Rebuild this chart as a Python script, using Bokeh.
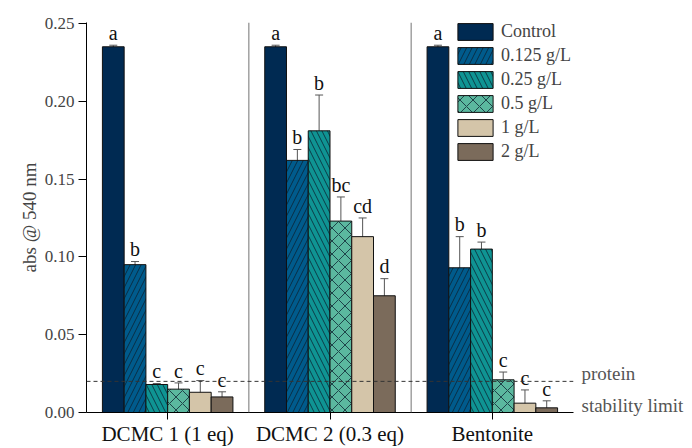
from bokeh.plotting import figure
from bokeh.models import (ColumnDataSource, FactorRange, Range1d, Span, Legend, LinearAxis,
                          LegendItem, Whisker, TeeHead, SingleIntervalTicker, FixedTicker,
                          NumeralTickFormatter)
from bokeh.transform import dodge
from bokeh.core.properties import value
from bokeh.embed import file_html
from bokeh.resources import INLINE

# ---- data ----
groups = ["DCMC 1 (1 eq)", "DCMC 2 (0.3 eq)", "Bentonite"]
series = ["Control", "0.125 g/L", "0.25 g/L", "0.5 g/L", "1 g/L", "2 g/L"]

control = [0.235, 0.235, 0.235]
conc_0125 = [0.095, 0.162, 0.093]
conc_025 = [0.018, 0.181, 0.105]
conc_05 = [0.015, 0.123, 0.021]
conc_1 = [0.013, 0.113, 0.006]
conc_2 = [0.010, 0.075, 0.003]

err_control = [0.001, 0.001, 0.001]
err_0125 = [0.002, 0.007, 0.020]
err_025 = [0.0006, 0.023, 0.0045]
err_05 = [0.004, 0.0155, 0.005]
err_1 = [0.0075, 0.012, 0.0085]
err_2 = [0.0033, 0.011, 0.0045]

let_control = ["a", "a", "a"]
let_0125 = ["b", "b", "b"]
let_025 = ["c", "b", "b"]
let_05 = ["c", "bc", "c"]
let_1 = ["c", "cd", "c"]
let_2 = ["c", "d", "c"]

stability_limit = 0.02
limit_text = ["protein", "stability limit"]

values_all = [control, conc_0125, conc_025, conc_05, conc_1, conc_2]
errors_all = [err_control, err_0125, err_025, err_05, err_1, err_2]
letters_all = [let_control, let_0125, let_025, let_05, let_1, let_2]

# ---- style ----
colors = ["#002a52", "#005b8c", "#0f9493", "#5bb89f", "#d4c5a9", "#7b6b5b"]
hatches = [None, "/", "\\", "x", None, None]
hatch_scales = [12, 11, 11, 13, 4, 4]
FONT = "Liberation Serif"
bar_w = 0.134

p = figure(x_range=FactorRange(*groups), y_range=Range1d(0, 0.2506),
           width=692, height=448, output_backend="svg", toolbar_location=None,
           min_border_left=86, min_border_right=119, min_border_top=22, min_border_bottom=35)
p.outline_line_color = None
p.xgrid.visible = False
p.ygrid.visible = False
p.background_fill_color = "white"

items = []
for i, name in enumerate(series):
    off = (i - 2.5) * bar_w
    vals = values_all[i]
    errs = errors_all[i]
    src = ColumnDataSource(dict(
        group=groups, top=vals,
        upper=[v + e for v, e in zip(vals, errs)],
        lower=[v - e for v, e in zip(vals, errs)],
        ly=[v + e + 0.0008 for v, e in zip(vals, errs)],
        letter=letters_all[i],
    ))
    kw = {}
    if hatches[i]:
        kw = dict(hatch_pattern=hatches[i], hatch_color="#0b1e2e", hatch_alpha=0.85,
                  hatch_scale=hatch_scales[i], hatch_weight=0.9)
    r = p.vbar(x=dodge("group", off, range=p.x_range), top="top", width=bar_w, bottom=0,
               source=src, fill_color=colors[i], line_color="#111111", line_width=1, **kw)
    items.append(LegendItem(label=name, renderers=[r]))
    w = Whisker(source=src, base=dodge("group", off, range=p.x_range), upper="upper", lower="lower",
                line_color="#555555", line_width=1,
                upper_head=TeeHead(size=8, line_color="#555555", line_width=1),
                lower_head=TeeHead(size=8, line_color="#555555", line_width=1))
    p.add_layout(w)
    p.text(x=dodge("group", off, range=p.x_range), y="ly", text="letter", source=src,
           text_align="center", text_baseline="bottom", text_font=value(FONT),
           text_font_size="20px", text_color="#111111")

# separators
for loc in [1, 2]:
    p.add_layout(Span(location=loc, dimension="height", line_color="#8a8a8a", line_width=1.2))

# stability limit line
p.add_layout(Span(location=stability_limit, dimension="width", line_color="#333333",
                  line_dash="4 3", line_width=1))

# text for the limit, as labels of an axis on the right side (outside the frame)
t_protein = stability_limit + 0.005
t_stab = 0.0045
raxis = LinearAxis(ticker=FixedTicker(ticks=[t_protein, t_stab]),
                   major_label_overrides={t_protein: limit_text[0], t_stab: limit_text[1]},
                   axis_line_color=None, major_tick_line_color=None, minor_tick_line_color=None,
                   major_tick_out=0, major_tick_in=0, minor_tick_out=0, minor_tick_in=0,
                   major_label_standoff=8, major_label_text_font=FONT,
                   major_label_text_font_size="19px", major_label_text_color="#555555")
p.add_layout(raxis, "right")

legend = Legend(items=items, location=(367, 250), glyph_width=44, glyph_height=21,
                spacing=3, padding=0, margin=0, label_standoff=4,
                border_line_color=None, background_fill_alpha=0,
                label_text_font=FONT, label_text_font_size="18px", label_height=21)
p.add_layout(legend)

# axes
p.yaxis[0].ticker = SingleIntervalTicker(interval=0.05, num_minor_ticks=0)
p.yaxis[0].formatter = NumeralTickFormatter(format="0.00")
p.yaxis[0].axis_label = "abs @ 540 nm"
p.yaxis[0].axis_label_text_font = FONT
p.yaxis[0].axis_label_text_font_size = "19px"
p.yaxis[0].axis_label_text_font_style = "normal"
p.yaxis[0].axis_label_standoff = 2
p.yaxis[0].major_label_text_font = FONT
p.yaxis[0].major_label_text_font_size = "17px"
p.yaxis[0].major_tick_out = 8
p.yaxis[0].major_tick_in = 0
p.yaxis[0].minor_tick_out = 0
p.yaxis[0].major_label_standoff = 4
p.yaxis[0].axis_line_color = "black"

p.xaxis.major_label_text_font = FONT
p.xaxis.major_label_text_font_size = "21px"
p.xaxis.major_label_text_color = "#111111"
p.xaxis.major_tick_out = 7
p.xaxis.major_tick_in = 0
p.xaxis.major_label_standoff = 2
p.xaxis.axis_line_color = "black"

open("out.html", "w").write(file_html(p, INLINE))
